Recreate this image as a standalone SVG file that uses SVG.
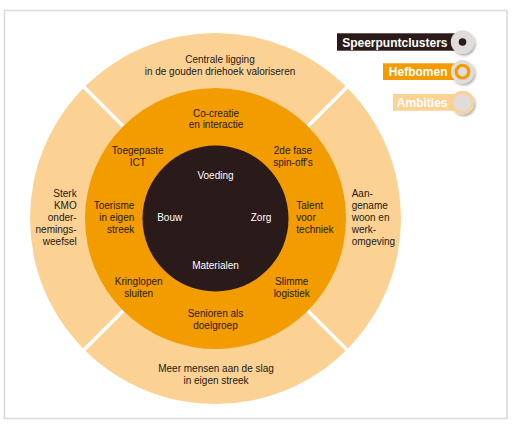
<svg xmlns="http://www.w3.org/2000/svg" width="513" height="431" viewBox="0 0 513 431">
<style>
.t{font-family:"Liberation Sans",Arial,sans-serif;font-size:10px;fill:#231815;text-anchor:middle}
.w{fill:#ffffff}
.e{text-anchor:end}
.s{text-anchor:start}
.lg{font-family:"Liberation Sans",Arial,sans-serif;font-size:12px;font-weight:bold;fill:#ffffff;text-anchor:end}
.gap{stroke:#ffffff;stroke-width:3.5}
</style>
<defs>
<filter id="sh" x="-50%" y="-50%" width="200%" height="200%">
<feDropShadow dx="1.5" dy="2" stdDeviation="1.2" flood-color="#000000" flood-opacity="0.3"/>
</filter>
</defs>
<rect x="4.5" y="10.5" width="502.5" height="408" fill="#ffffff" stroke="#dcd8d8" stroke-width="1.5"/>
<g id="ambities-ring">
<circle cx="215.5" cy="218.5" r="185.5" fill="#fbd294"/>
</g>
<g id="connectors">
<line class="gap" x1="130.65" y1="133.65" x2="81.15" y2="84.15"/>
<line class="gap" x1="300.35" y1="133.65" x2="349.85" y2="84.15"/>
<line class="gap" x1="130.65" y1="303.35" x2="81.15" y2="352.85"/>
<line class="gap" x1="300.35" y1="303.35" x2="349.85" y2="352.85"/>
</g>
<g id="hefbomen-ring">
<circle cx="215.5" cy="218.5" r="130.5" fill="#f39c00"/>
</g>
<g id="speerpunt-core">
<circle cx="215.5" cy="218.5" r="73" fill="#2a1a19"/>
</g>
<g id="ambitie-top"><text class="t" x="220" y="63.3">Centrale ligging</text><text class="t" x="220" y="75.3">in de gouden driehoek valoriseren</text></g>
<g id="ambitie-bottom"><text class="t" x="216" y="371.7">Meer mensen aan de slag</text><text class="t" x="216" y="383.7">in eigen streek</text></g>
<g id="ambitie-left"><text class="t e" x="76.7" y="196.7">Sterk</text><text class="t e" x="76.7" y="208.7">KMO</text><text class="t e" x="76.7" y="220.7">onder-</text><text class="t e" x="76.7" y="232.7">nemings-</text><text class="t e" x="76.7" y="244.7">weefsel</text></g>
<g id="ambitie-right"><text class="t s" x="351.7" y="196.7">Aan-</text><text class="t s" x="351.7" y="208.7">gename</text><text class="t s" x="351.7" y="220.7">woon en</text><text class="t s" x="351.7" y="232.7">werk-</text><text class="t s" x="351.7" y="244.7">omgeving</text></g>
<g id="hef-cocreatie"><text class="t" x="216" y="116.7">Co-creatie</text><text class="t" x="216" y="128.2">en interactie</text></g>
<g id="hef-ict"><text class="t" x="137.7" y="153.7">Toegepaste</text><text class="t" x="137.7" y="165.7">ICT</text></g>
<g id="hef-spinoff"><text class="t" x="293" y="153.7">2de fase</text><text class="t" x="293" y="165.7">spin-off's</text></g>
<g id="hef-toerisme"><text class="t e" x="134.3" y="208.7">Toerisme</text><text class="t e" x="134.3" y="220.7">in eigen</text><text class="t e" x="134.3" y="232.7">streek</text></g>
<g id="hef-talent"><text class="t s" x="296.3" y="208.7">Talent</text><text class="t s" x="296.3" y="220.7">voor</text><text class="t s" x="296.3" y="232.7">techniek</text></g>
<g id="hef-kringlopen"><text class="t" x="138.7" y="284.7">Kringlopen</text><text class="t" x="138.7" y="296.7">sluiten</text></g>
<g id="hef-logistiek"><text class="t" x="291.7" y="284.7">Slimme</text><text class="t" x="291.7" y="296.7">logistiek</text></g>
<g id="hef-senioren"><text class="t" x="215.5" y="316.7">Senioren als</text><text class="t" x="215.5" y="328.7">doelgroep</text></g>
<g id="sp-voeding"><text class="t w" x="215.5" y="178.7">Voeding</text></g>
<g id="sp-bouw"><text class="t w" x="169.7" y="220.7">Bouw</text></g>
<g id="sp-zorg"><text class="t w" x="261" y="220.7">Zorg</text></g>
<g id="sp-materialen"><text class="t w" x="215.5" y="268.7">Materialen</text></g>
<g id="legend-speerpunt">
<rect x="337" y="33.3" width="124" height="17.4" fill="#2a1a19"/>
<text class="lg" x="447.5" y="46.5">Speerpuntclusters</text>
<circle cx="462.5" cy="42" r="11.7" fill="#e1dcdc" filter="url(#sh)"/>
<circle cx="462.5" cy="42" r="3.8" fill="#2a1a19"/>
</g>
<g id="legend-hefbomen">
<rect x="383" y="63.3" width="78" height="16.7" fill="#f39c00"/>
<text class="lg" x="447.5" y="76.3">Hefbomen</text>
<circle cx="462.5" cy="71.7" r="11.7" fill="#e1dcdc" filter="url(#sh)"/>
<circle cx="462.5" cy="71.7" r="6.3" fill="#e1dcdc" stroke="#f39c00" stroke-width="3.2"/>
</g>
<g id="legend-ambities">
<rect x="393" y="94" width="68" height="16.7" fill="#fbd294"/>
<text class="lg" x="447.5" y="107">Ambities</text>
<circle cx="462.5" cy="102.5" r="11.7" fill="#fbd294" filter="url(#sh)"/>
<circle cx="462.5" cy="102.5" r="8.8" fill="#e1dcdc"/>
</g>
</svg>
